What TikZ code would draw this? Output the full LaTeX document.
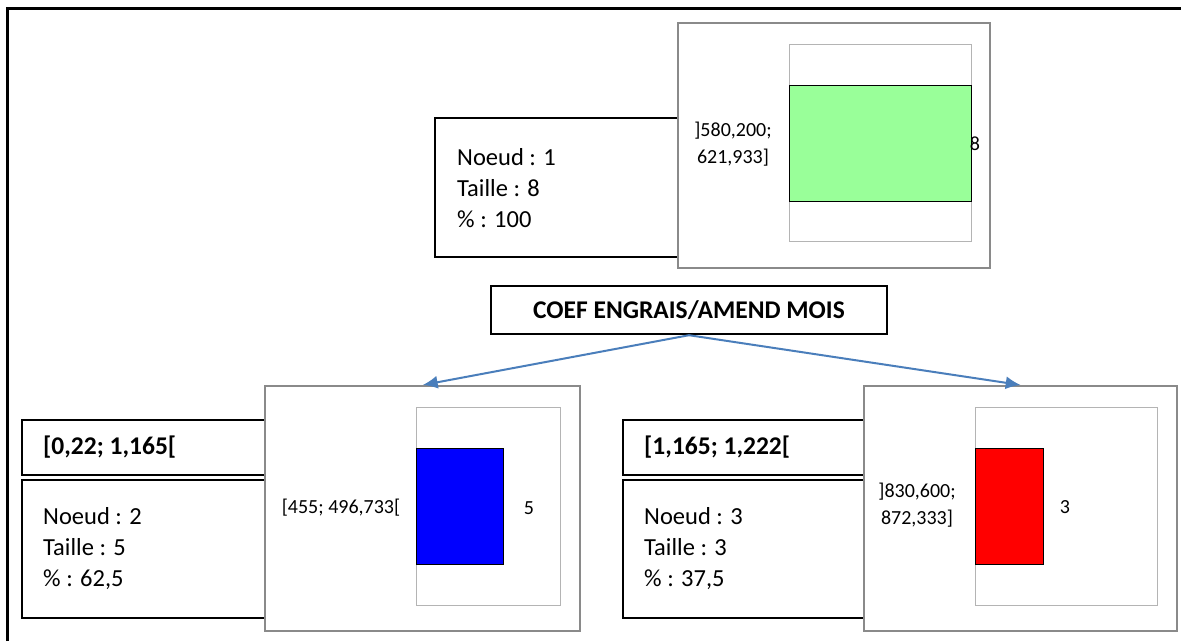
\documentclass[tikz,border=0pt]{standalone}
\usepackage{fontspec}
\setmainfont{Carlito}
\usetikzlibrary{arrows.meta}
\definecolor{arrowblue}{HTML}{4A7EBB}
\definecolor{framegray}{HTML}{8A8A8A}
\definecolor{plotgray}{HTML}{B4B4B4}
\definecolor{barGreen}{HTML}{99FF99}
\definecolor{barBlue}{HTML}{0000FF}
\definecolor{barRed}{HTML}{FF0000}
\tikzset{
  x=1pt, y=-1pt,
  txtbox/.style={draw=black, line width=2.4pt, fill=white, inner sep=0pt, anchor=north west},
  gbox/.style={draw=framegray, line width=2.4pt, fill=white, inner sep=0pt, anchor=north west},
  plotbox/.style={draw=plotgray, line width=1pt, inner sep=0pt, anchor=north west},
  barbox/.style={draw=black, line width=1pt, inner sep=0pt, anchor=north west},
  body/.style={font=\fontsize{24.5}{31}\selectfont, align=left, inner sep=0pt, anchor=west},
  head/.style={font=\fontsize{25.5}{30}\selectfont\bfseries, inner sep=0pt, anchor=west},
  small/.style={font=\fontsize{20}{27}\selectfont, align=center, inner sep=0pt},
  conn/.style={draw=arrowblue, line width=2pt, -{Latex[length=15pt,width=13pt]}}
}
\begin{document}
\begin{tikzpicture}
\useasboundingbox (0,0) rectangle (1181,641);
% outer frame
\draw[line width=3pt] (7,641) -- (7,8) -- (1185,8);

% ---- node 1 ----
\node[txtbox, minimum width=256pt, minimum height=139pt] (t1) at (434,117) {};
\node[gbox, minimum width=312pt, minimum height=245pt] (g1) at (677,22) {};
\node[plotbox, minimum width=182pt, minimum height=197pt] (p1) at (789,44) {};
\node[barbox, fill=barGreen, minimum width=182pt, minimum height=116pt] (b1) at (789,85) {};
\node[body] (n1) at (457,188) {Noeud : 1\\Taille : 8\\\% : 100};
\node[small] (l1) at (733,144) {]580,200;\\621,933]};
\node[small] (v1) at (975,144) {8};

% ---- split variable ----
\node[txtbox, anchor=center, minimum width=396pt, minimum height=48pt,
      font=\fontsize{25.5}{30}\selectfont\bfseries] (coef) at (689,310) {COEF ENGRAIS/AMEND MOIS};

% ---- node 2 ----
\node[txtbox, minimum width=250pt, minimum height=55pt] (h2) at (21,419) {};
\node[txtbox, minimum width=250pt, minimum height=138pt] (t2) at (21,479) {};
\node[head] (h2txt) at (43,447) {[0,22; 1,165[};
\node[body] (n2) at (43,549) {Noeud : 2\\Taille : 5\\\% : 62,5};
\node[gbox, minimum width=315pt, minimum height=245pt] (g2) at (264,385) {};
\node[plotbox, minimum width=144pt, minimum height=198pt] (p2) at (416,407) {};
\node[barbox, fill=barBlue, minimum width=87pt, minimum height=116pt] (b2) at (416,448) {};
\node[small] (l2) at (341,508) {[455; 496,733[};
\node[small] (v2) at (529,508) {5};

% ---- node 3 ----
\node[txtbox, minimum width=250pt, minimum height=55pt] (h3) at (622,419) {};
\node[txtbox, minimum width=250pt, minimum height=138pt] (t3) at (622,479) {};
\node[head] (h3txt) at (644,447) {[1,165; 1,222[};
\node[body] (n3) at (644,549) {Noeud : 3\\Taille : 3\\\% : 37,5};
\node[gbox, minimum width=313pt, minimum height=245pt] (g3) at (863,385) {};
\node[plotbox, minimum width=182pt, minimum height=198pt] (p3) at (975,407) {};
\node[barbox, fill=barRed, minimum width=68pt, minimum height=116pt] (b3) at (975,448) {};
\node[small] (l3) at (917,505) {]830,600;\\872,333]};
\node[small] (v3) at (1065,507) {3};

% ---- connectors ----
\draw[conn] (coef.south) -- (g2.north);
\draw[conn] (coef.south) -- (g3.north);
\end{tikzpicture}
\end{document}
